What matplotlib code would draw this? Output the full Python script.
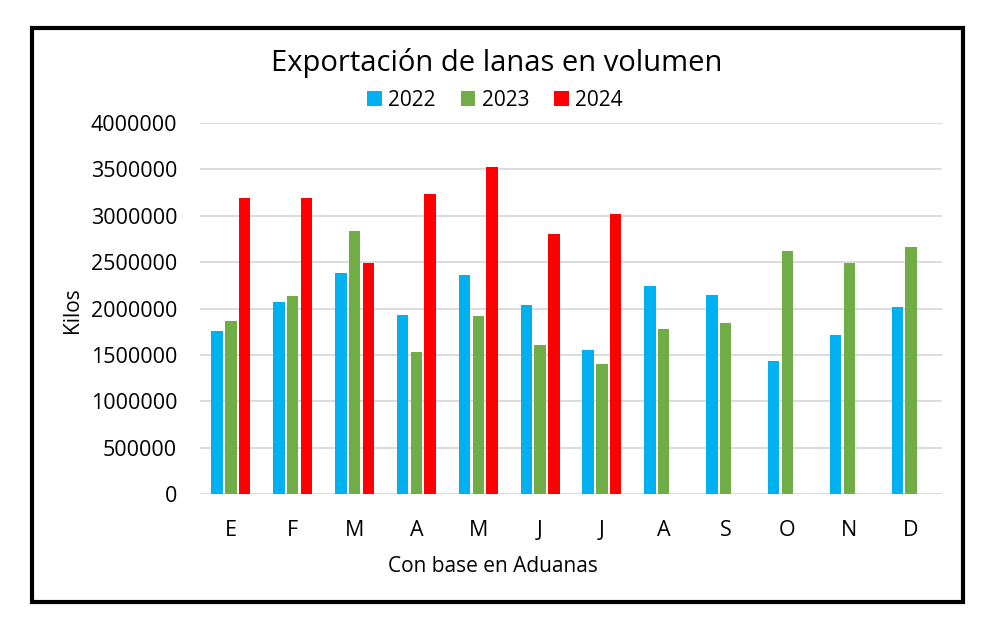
import matplotlib
matplotlib.use("Agg")
import matplotlib.pyplot as plt
import numpy as np
from matplotlib.patches import Rectangle
from matplotlib.ticker import StrMethodFormatter

plt.rcParams['font.family'] = ['Open Sans', 'DejaVu Sans']

meses = ["E", "F", "M", "A", "M", "J", "J", "A", "S", "O", "N", "D"]
v2022 = [1760000, 2065000, 2380000, 1925000, 2360000, 2040000,
         1550000, 2240000, 2150000, 1440000, 1715000, 2015000]
v2023 = [1865000, 2135000, 2830000, 1535000, 1915000, 1610000,
         1405000, 1775000, 1840000, 2620000, 2490000, 2665000]
v2024 = [3185000, 3185000, 2490000, 3230000, 3525000, 2800000,
         3020000, 0, 0, 0, 0, 0]

fig = plt.figure(figsize=(10, 6.27), dpi=100)
ax = fig.add_axes([0.2, 0.2116, 0.742, 0.5927])

x = np.arange(len(meses))
w = 0.185
d = 0.222
ax.bar(x - d, v2022, w, color='#00B0F0', label='2022', zorder=3)
ax.bar(x, v2023, w, color='#70AD47', label='2023', zorder=3)
ax.bar(x + d, v2024, w, color='#FF0000', label='2024', zorder=3)

ax.set_xlim(-0.5, 11.5)
ax.set_ylim(0, 4000000)
ax.set_yticks(np.arange(0, 4000001, 500000))
ax.yaxis.set_major_formatter(StrMethodFormatter('{x:.0f}'))
ax.yaxis.grid(True, color='#D9D9D9', linewidth=1.3, zorder=0)
ax.set_axisbelow(True)
for s in ax.spines.values():
    s.set_visible(False)
ax.set_xticks(x)
ax.set_xticklabels(meses)
ax.tick_params(axis='both', length=0, labelsize=15.5, colors='black')
ax.tick_params(axis='y', pad=16.5)
ax.tick_params(axis='x', pad=18.5)

fig.text(0.493, 0.096, "Con base en Aduanas", ha='center', va='center', fontsize=15)
fig.text(0.072, 0.505, "Kilos", ha='center', va='center', fontsize=15, rotation=90)

fig.text(0.497, 0.9, "Exportación de lanas en volumen", ha='center', va='center', fontsize=21)
fig.legend(loc='center', bbox_to_anchor=(0.495, 0.84), ncol=3, frameon=False,
           fontsize=15, handlelength=0.7, handleheight=0.7, handletextpad=0.3,
           columnspacing=1.2)

fig.patches.append(Rectangle((0.032, 0.04), 0.931, 0.916, transform=fig.transFigure,
                             fill=False, edgecolor='black', linewidth=3))

fig.savefig("out.png", dpi=100)
